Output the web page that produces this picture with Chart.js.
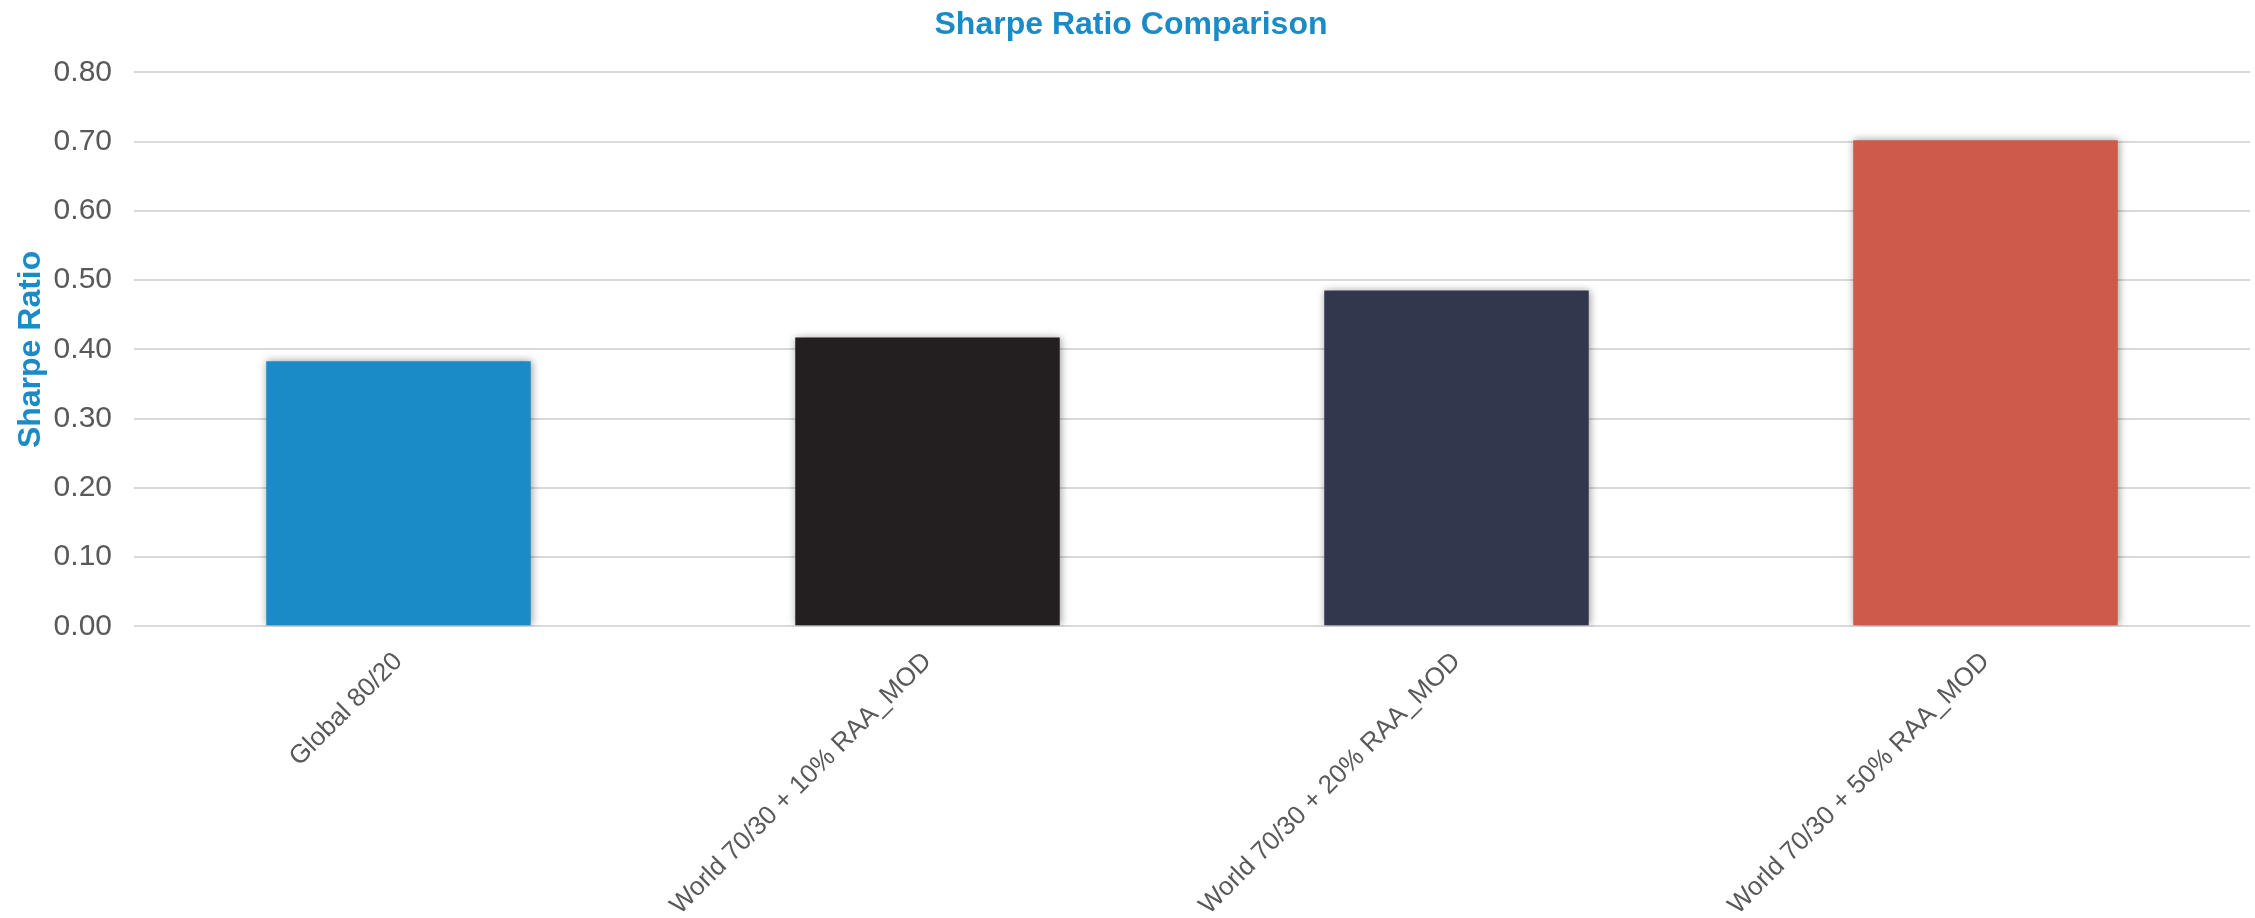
<!DOCTYPE html>
<html>
<head>
<meta charset="utf-8">
<script src="https://cdn.jsdelivr.net/npm/chart.js@4.4.1/dist/chart.umd.min.js"></script>
<style>
    html, body { margin: 0; padding: 0; background: #ffffff; }
    #wrap { width: 2255px; height: 918px; position: relative; }
</style>
</head>
<body>
<div id="wrap"><canvas id="sharpeChart"></canvas></div>
<script>
const portfolios = ['Global 80/20', 'World 70/30 + 10% RAA_MOD', 'World 70/30 + 20% RAA_MOD', 'World 70/30 + 50% RAA_MOD'];
const sharpeRatios = [0.383, 0.417, 0.485, 0.702];
const barColors = ['#1b8bc8', '#231f20', '#33374d', '#cd5a4a'];
const yTicks = { min: 0, max: 0.8, step: 0.1 };

const FONT = 'Arial, "Liberation Sans", sans-serif';

// soft drop shadow under the bars
const barShadow = {
    id: 'barShadow',
    beforeDatasetsDraw(chart) {
        const c = chart.ctx;
        c.save();
        c.shadowColor = 'rgba(0,0,0,0.4)';
        c.shadowBlur = 8;
        c.shadowOffsetX = 1;
        c.shadowOffsetY = 0;
    },
    afterDatasetsDraw(chart) {
        chart.ctx.restore();
    }
};

const ctx = document.getElementById('sharpeChart').getContext('2d');

new Chart(ctx, {
    type: 'bar',
    data: {
        labels: portfolios,
        datasets: [{
            label: 'Sharpe Ratio',
            data: sharpeRatios,
            backgroundColor: barColors,
            borderWidth: 0,
            barPercentage: 0.5,
            categoryPercentage: 1.0
        }]
    },
    options: {
        responsive: true,
        maintainAspectRatio: false,
        animation: false,
        layout: { padding: { left: 12, right: 5, top: 2, bottom: -15 } },
        plugins: {
            legend: { display: false },
            tooltip: { enabled: false },
            title: {
                display: true,
                text: 'Sharpe Ratio Comparison',
                color: '#1b8bc8',
                font: { family: FONT, size: 32, weight: 'bold' },
                padding: { top: 4, bottom: 28 }
            }
        },
        scales: {
            y: {
                min: yTicks.min,
                max: yTicks.max,
                border: { display: false },
                grid: { color: '#d9d9d9', lineWidth: 2, drawTicks: false },
                afterFit: scale => { scale.width = 122; },
                ticks: {
                    stepSize: yTicks.step,
                    color: '#595959',
                    padding: 22,
                    font: { family: FONT, size: 30 },
                    callback: v => Number(v).toFixed(2)
                },
                title: {
                    display: true,
                    text: 'Sharpe Ratio',
                    color: '#1b8bc8',
                    font: { family: FONT, size: 32, weight: 'bold' },
                    padding: { top: 0, bottom: 6 }
                }
            },
            x: {
                border: { display: false },
                grid: { display: false },
                ticks: {
                    color: '#595959',
                    minRotation: 45,
                    maxRotation: 45,
                    padding: 12,
                    font: { family: FONT, size: 26 }
                }
            }
        }
    },
    plugins: [barShadow]
});
</script>
</body>
</html>
